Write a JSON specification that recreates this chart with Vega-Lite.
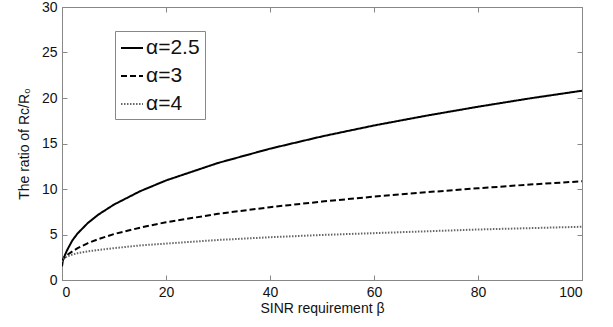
{
  "$schema": "https://vega.github.io/schema/vega-lite/v6.json",
  "width": 520,
  "height": 273,
  "autosize": {"type": "none"},
  "padding": {"left": 62, "top": 7, "right": 31, "bottom": 47},
  "config": {
    "view": {"stroke": "#888888", "strokeWidth": 1},
    "font": "Liberation Sans",
    "axis": {
      "grid": false,
      "domainColor": "#888888",
      "tickColor": "#888888",
      "tickSize": -5,
      "labelFont": "Liberation Sans",
      "titleFont": "Liberation Sans",
      "labelFontSize": 14,
      "titleFontSize": 14,
      "titleFontWeight": "normal",
      "labelColor": "#111111",
      "titleColor": "#111111"
    }
  },
  "data": {
    "values": [
      {"b": 0, "y": 1.5, "s": "α=2.5"},
      {"b": 0.2, "y": 2.3, "s": "α=2.5"},
      {"b": 0.5, "y": 2.65, "s": "α=2.5"},
      {"b": 1, "y": 3.3, "s": "α=2.5"},
      {"b": 2, "y": 4.36, "s": "α=2.5"},
      {"b": 3, "y": 5.12, "s": "α=2.5"},
      {"b": 5, "y": 6.28, "s": "α=2.5"},
      {"b": 7, "y": 7.19, "s": "α=2.5"},
      {"b": 10, "y": 8.29, "s": "α=2.5"},
      {"b": 15, "y": 9.75, "s": "α=2.5"},
      {"b": 20, "y": 10.94, "s": "α=2.5"},
      {"b": 30, "y": 12.86, "s": "α=2.5"},
      {"b": 40, "y": 14.43, "s": "α=2.5"},
      {"b": 50, "y": 15.78, "s": "α=2.5"},
      {"b": 60, "y": 16.98, "s": "α=2.5"},
      {"b": 70, "y": 18.05, "s": "α=2.5"},
      {"b": 80, "y": 19.04, "s": "α=2.5"},
      {"b": 90, "y": 19.96, "s": "α=2.5"},
      {"b": 100, "y": 20.8, "s": "α=2.5"},
      {"b": 0, "y": 2.0, "s": "α=3"},
      {"b": 0.2, "y": 2.25, "s": "α=3"},
      {"b": 0.5, "y": 2.45, "s": "α=3"},
      {"b": 1, "y": 2.75, "s": "α=3"},
      {"b": 2, "y": 3.15, "s": "α=3"},
      {"b": 3, "y": 3.5, "s": "α=3"},
      {"b": 5, "y": 4.05, "s": "α=3"},
      {"b": 7, "y": 4.5, "s": "α=3"},
      {"b": 10, "y": 5.05, "s": "α=3"},
      {"b": 15, "y": 5.75, "s": "α=3"},
      {"b": 20, "y": 6.35, "s": "α=3"},
      {"b": 30, "y": 7.27, "s": "α=3"},
      {"b": 40, "y": 8.0, "s": "α=3"},
      {"b": 50, "y": 8.62, "s": "α=3"},
      {"b": 60, "y": 9.16, "s": "α=3"},
      {"b": 70, "y": 9.64, "s": "α=3"},
      {"b": 80, "y": 10.08, "s": "α=3"},
      {"b": 90, "y": 10.49, "s": "α=3"},
      {"b": 100, "y": 10.85, "s": "α=3"},
      {"b": 0, "y": 2.0, "s": "α=4"},
      {"b": 0.2, "y": 2.3, "s": "α=4"},
      {"b": 0.5, "y": 2.45, "s": "α=4"},
      {"b": 1, "y": 2.6, "s": "α=4"},
      {"b": 2, "y": 2.8, "s": "α=4"},
      {"b": 3, "y": 2.95, "s": "α=4"},
      {"b": 5, "y": 3.15, "s": "α=4"},
      {"b": 7, "y": 3.3, "s": "α=4"},
      {"b": 10, "y": 3.5, "s": "α=4"},
      {"b": 15, "y": 3.8, "s": "α=4"},
      {"b": 20, "y": 4.0, "s": "α=4"},
      {"b": 30, "y": 4.4, "s": "α=4"},
      {"b": 40, "y": 4.7, "s": "α=4"},
      {"b": 50, "y": 4.95, "s": "α=4"},
      {"b": 60, "y": 5.15, "s": "α=4"},
      {"b": 70, "y": 5.35, "s": "α=4"},
      {"b": 80, "y": 5.55, "s": "α=4"},
      {"b": 90, "y": 5.7, "s": "α=4"},
      {"b": 100, "y": 5.85, "s": "α=4"}
    ]
  },
  "layer": [
    {
      "mark": {"type": "line", "strokeWidth": 2, "clip": true},
      "encoding": {
        "x": {
          "field": "b", "type": "quantitative",
          "scale": {"domain": [0, 100], "nice": false},
          "axis": {"values": [0, 20, 40, 60, 80, 100], "title": "SINR requirement β", "labelPadding": 10, "titlePadding": 2}
        },
        "y": {
          "field": "y", "type": "quantitative",
          "scale": {"domain": [0, 30], "nice": false},
          "axis": {"values": [0, 5, 10, 15, 20, 25, 30], "title": "The ratio of Rc/R₀", "labelPadding": 10, "titlePadding": 10}
        },
        "color": {
          "field": "s", "type": "nominal",
          "scale": {"domain": ["α=2.5", "α=3", "α=4"], "range": ["#000000", "#000000", "#666666"]},
          "legend": {
            "title": null,
            "orient": "none",
            "legendX": 53,
            "legendY": 24,
            "symbolType": "stroke",
            "symbolSize": 484,
            "symbolStrokeWidth": 2,
            "labelFontSize": 21,
            "labelFont": "Liberation Sans",
            "labelColor": "#111111",
            "rowPadding": 6,
            "strokeColor": "#888888",
            "fillColor": "white",
            "padding": 5,
            "labelOffset": 2
          }
        },
        "strokeDash": {
          "field": "s", "type": "nominal",
          "scale": {"domain": ["α=2.5", "α=3", "α=4"], "range": [[1, 0], [6, 3], [1.5, 1.5]]},
          "legend": null
        }
      }
    },
    {
      "mark": {"type": "rule", "opacity": 0},
      "encoding": {
        "x": {"datum": 0, "type": "quantitative", "axis": {"orient": "top", "values": [0, 20, 40, 60, 80, 100], "labels": false, "title": null, "domain": false}},
        "y": {"datum": 0, "type": "quantitative", "axis": {"orient": "right", "values": [0, 5, 10, 15, 20, 25, 30], "labels": false, "title": null, "domain": false}}
      }
    }
  ],
  "resolve": {"axis": {"x": "independent", "y": "independent"}}
}
